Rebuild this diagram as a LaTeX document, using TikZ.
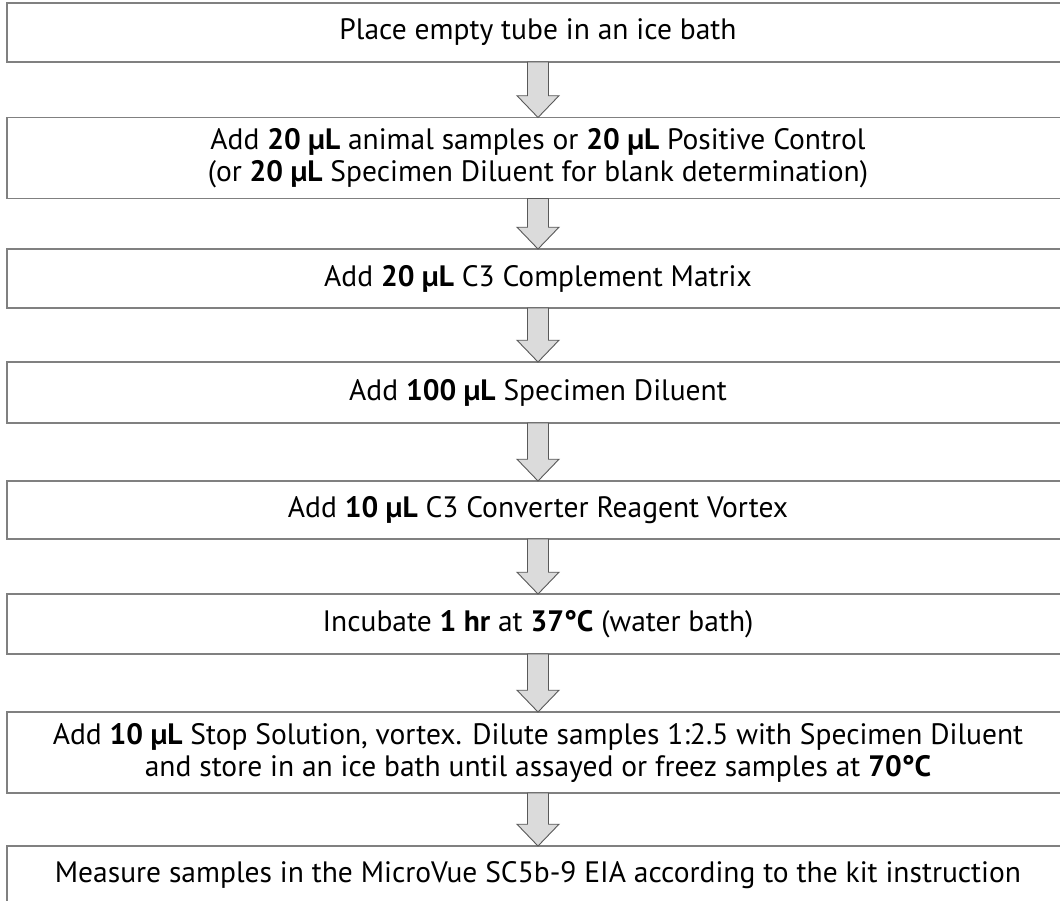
\documentclass[tikz,border=0pt]{standalone}
\usepackage{fontspec}
\setmainfont{PT Sans}
\usetikzlibrary{positioning,calc}

\begin{document}
\begin{tikzpicture}[
    x=1pt, y=-1pt,
    stepbox/.style={draw=black!50, line width=1.6pt, rectangle, minimum width=1062pt,
        minimum height=59pt, inner sep=0pt, align=center,
        font=\fontsize{29.5}{32}\selectfont},
    tallbox/.style={stepbox, minimum height=81pt},
    flow/.style={draw=black!65, line width=0.9pt, fill=gray!28, line join=miter}
]
    \useasboundingbox (0,0) rectangle (1060,900);
    \clip (0,0) rectangle (1060,900);

    % --- Steps ---
    \node[stepbox] (s1) at (538, 32.5) {Place empty tube in an ice bath};
    \node[tallbox] (s2) at (538, 158) {Add \textbf{20 µL} animal samples or \textbf{20 µL} Positive Control\\
        (or \textbf{20 µL} Specimen Diluent for blank determination)};
    \node[stepbox] (s3) at (538, 278.5) {Add \textbf{20 µL} C3 Complement Matrix};
    \node[stepbox, minimum height=61pt] (s4) at (538, 392.5) {Add \textbf{100 µL} Specimen Diluent};
    \node[stepbox, minimum height=58pt] (s5) at (538, 510) {Add \textbf{10 µL} C3 Converter Reagent Vortex};
    \node[stepbox, minimum height=60pt] (s6) at (538, 624) {Incubate \textbf{1 hr} at \textbf{37°C} (water bath)};
    \node[tallbox] (s7) at (538, 752.5) {Add \textbf{10 µL} Stop Solution, vortex. Dilute samples 1:2.5 with Specimen Diluent\\
        and store in an ice bath until assayed or freez samples at \textbf{70°C}};
    \node[stepbox] (s8) at (538, 875.5) {Measure samples in the MicroVue SC5b-9 EIA according to the kit instruction};

    % Block arrows between the steps
    \foreach \a/\b in {s1/s2, s2/s3, s3/s4, s4/s5, s5/s6, s6/s7, s7/s8}
        \draw[flow] ($(\a.south)+(-10.5,-0.8)$) -- ($(\b.north)+(-10.5,-21)$)
            -- ($(\b.north)+(-21,-21)$) -- ($(\b.north)+(0,0.8)$)
            -- ($(\b.north)+(21,-21)$) -- ($(\b.north)+(10.5,-21)$)
            -- ($(\a.south)+(10.5,-0.8)$) -- cycle;

\end{tikzpicture}
\end{document}
